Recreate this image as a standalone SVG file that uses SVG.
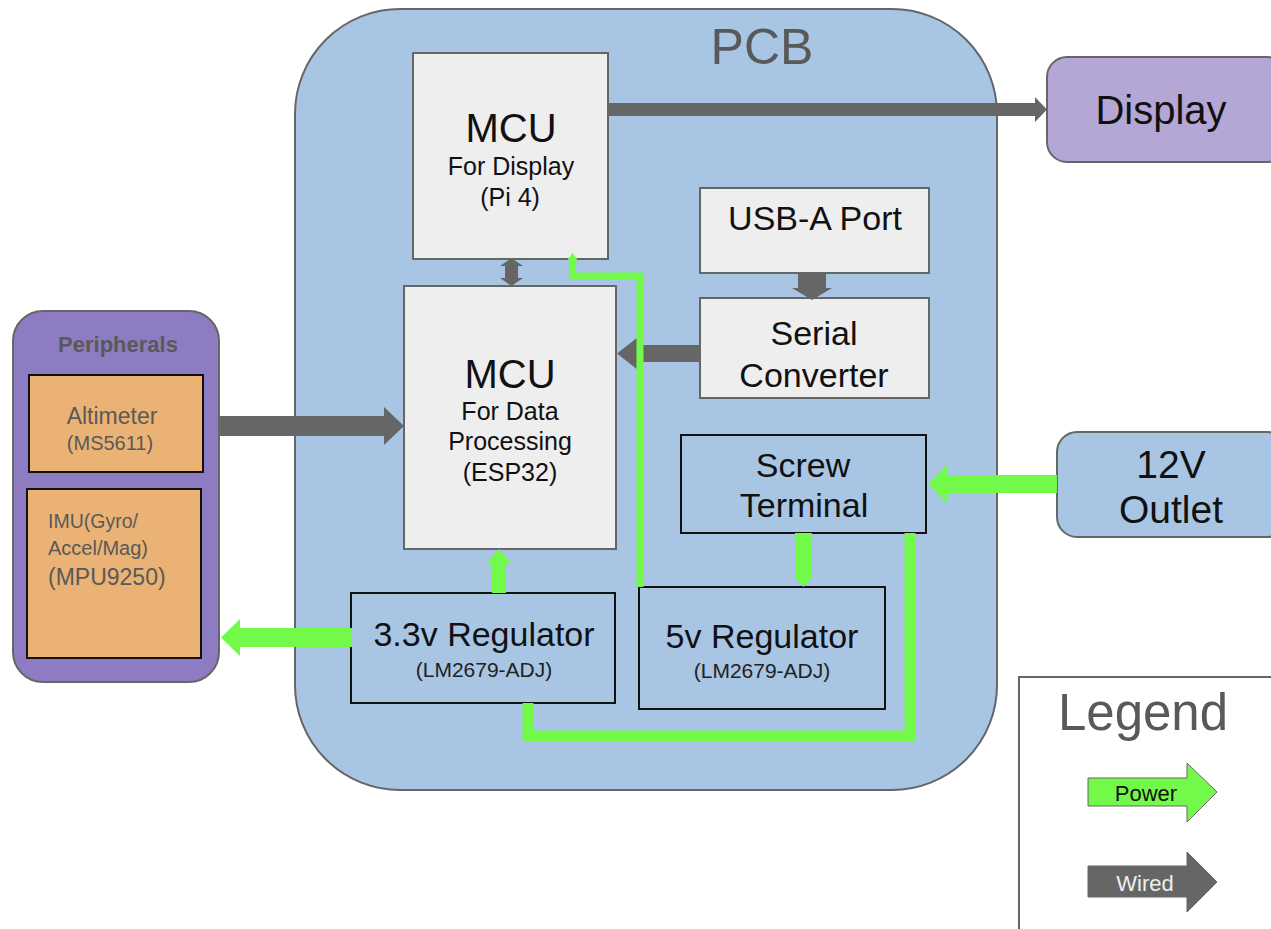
<svg xmlns="http://www.w3.org/2000/svg" width="1271" height="929" viewBox="0 0 1271 929">
<style>
text{font-family:"Liberation Sans",Arial,sans-serif;text-anchor:middle}
.grey{fill:#eeeeee;stroke:#666;stroke-width:2}
.blk{fill:#a8c5e4;stroke:#111;stroke-width:2}
.pow{fill:#72f94a}
.wire{fill:#666666}
.t30{font-size:34px;fill:#111}
.t22{font-size:25px;fill:#111}
.t18{font-size:21px;fill:#222}
.gt{fill:#595959}
</style>
<rect width="1271" height="929" fill="#ffffff"/>
<g id="pcb">
<rect x="295" y="9" width="702" height="781" rx="105" ry="105" fill="#a8c5e4" stroke="#666" stroke-width="2"/>
<text x="762" y="64" font-size="50" class="gt">PCB</text>
</g>
<g id="peripherals">
<rect x="13" y="311" width="206" height="371" rx="30" fill="#8e7cc3" stroke="#666" stroke-width="2"/>
<text x="118" y="352" font-size="22" font-weight="bold" class="gt">Peripherals</text>
</g>
<g id="altimeter">
<rect x="29" y="375" width="174" height="97" fill="#ebb275" stroke="#111" stroke-width="2"/>
<text x="112" y="424" font-size="23" class="gt">Altimeter</text>
<text x="110" y="450" font-size="20" class="gt">(MS5611)</text>
</g>
<g id="imu">
<rect x="27" y="489" width="174" height="169" fill="#ebb275" stroke="#111" stroke-width="2"/>
<text x="48" y="528" font-size="19.5" class="gt" style="text-anchor:start">IMU(Gyro/</text>
<text x="48" y="555" font-size="20" class="gt" style="text-anchor:start">Accel/Mag)</text>
<text x="48" y="585" font-size="23" class="gt" style="text-anchor:start">(MPU9250)</text>
</g>
<g id="mcu-display">
<rect x="413" y="53" width="195" height="206" class="grey"/>
<text x="511" y="142" font-size="40" fill="#111">MCU</text>
<text x="511" y="175" class="t22">For Display</text>
<text x="510" y="206" class="t22">(Pi 4)</text>
</g>
<g id="mcu-data">
<rect x="404" y="286" width="212" height="263" class="grey"/>
<text x="510" y="388" font-size="40" fill="#111">MCU</text>
<text x="510" y="420" class="t22">For Data</text>
<text x="510" y="450" class="t22">Processing</text>
<text x="510" y="481" class="t22">(ESP32)</text>
</g>
<g id="usb">
<rect x="700" y="188" width="229" height="85" class="grey"/>
<text x="815" y="230" class="t30">USB-A Port</text>
</g>
<g id="serial">
<rect x="700" y="298" width="229" height="100" class="grey"/>
<text x="814" y="345" class="t30">Serial</text>
<text x="814" y="387" class="t30">Converter</text>
</g>
<g id="screw">
<rect x="681" y="435" width="245" height="98" class="blk"/>
<text x="803" y="477" class="t30">Screw</text>
<text x="804" y="517" class="t30">Terminal</text>
</g>
<g id="reg33">
<rect x="351" y="593" width="264" height="110" class="blk"/>
<text x="484" y="646" class="t30">3.3v Regulator</text>
<text x="484" y="677" class="t18">(LM2679-ADJ)</text>
</g>
<g id="reg5">
<rect x="639" y="587" width="246" height="122" class="blk"/>
<text x="762" y="648" class="t30">5v Regulator</text>
<text x="762" y="678" class="t18">(LM2679-ADJ)</text>
</g>
<g id="display">
<rect x="1047" y="57" width="240" height="105" rx="20" fill="#b4a7d6" stroke="#666" stroke-width="2"/>
<text x="1161" y="124" font-size="40" fill="#111">Display</text>
</g>
<g id="outlet">
<rect x="1057" y="432" width="230" height="105" rx="20" fill="#a8c5e4" stroke="#666" stroke-width="2"/>
<text x="1171" y="478" font-size="39" fill="#111">12V</text>
<text x="1171" y="523" font-size="39" fill="#111">Outlet</text>
</g>
<g id="connectors">
<!-- wired -->
<polygon class="wire" points="608,103 1035,103 1035,97 1047,109.5 1035,122 1035,116 608,116"/>
<polygon class="wire" points="505,266 500,266 511.5,258 523,266 518,266 518,278 523,278 511.5,286 500,278 505,278"/>
<polygon class="wire" points="219,416 384,416 384,407 404,426 384,445 384,436 219,436"/>
<polygon class="wire" points="700,345 638,345 638,337 617,353.5 638,370 638,362 700,362"/>
<polygon class="wire" points="798,273 826,273 826,288 832,288 812,300 792,288 798,288"/>
<!-- power -->
<polygon class="pow" points="1057,475 947,475 947,465 928,484 947,503 947,493 1057,493"/>
<polygon class="pow" points="795,533 812,533 812,578 803.5,587 795,578"/>
<path d="M910,533 V736 H528 V703" fill="none" stroke="#72f94a" stroke-width="11"/>
<polygon class="pow" points="492,593 506,593 506,564 512,564 499,549 486,564 492,564"/>
<polygon class="pow" points="352,628 240,628 240,619 221,637.5 240,656 240,647 352,647"/>
<path d="M640,587 V276 H572.5 V260" fill="none" stroke="#72f94a" stroke-width="7"/>
<polygon class="pow" points="566,262 572.5,253 579,262"/>
</g>
<g id="legend">
<rect x="1019" y="677" width="260" height="260" fill="#ffffff" stroke="#666" stroke-width="2"/>
<text x="1143" y="730" font-size="51" class="gt">Legend</text>
<polygon class="pow" stroke="#666" stroke-width="1" points="1088,778 1187,778 1187,763 1217,792 1187,822 1187,806 1088,806"/>
<text x="1146" y="801" font-size="22" fill="#111">Power</text>
<polygon class="wire" stroke="#666" stroke-width="1" points="1088,866 1187,866 1187,852 1217,882 1187,912 1187,897 1088,897"/>
<text x="1145" y="891" font-size="22" fill="#eeeeee">Wired</text>
</g>
</svg>
